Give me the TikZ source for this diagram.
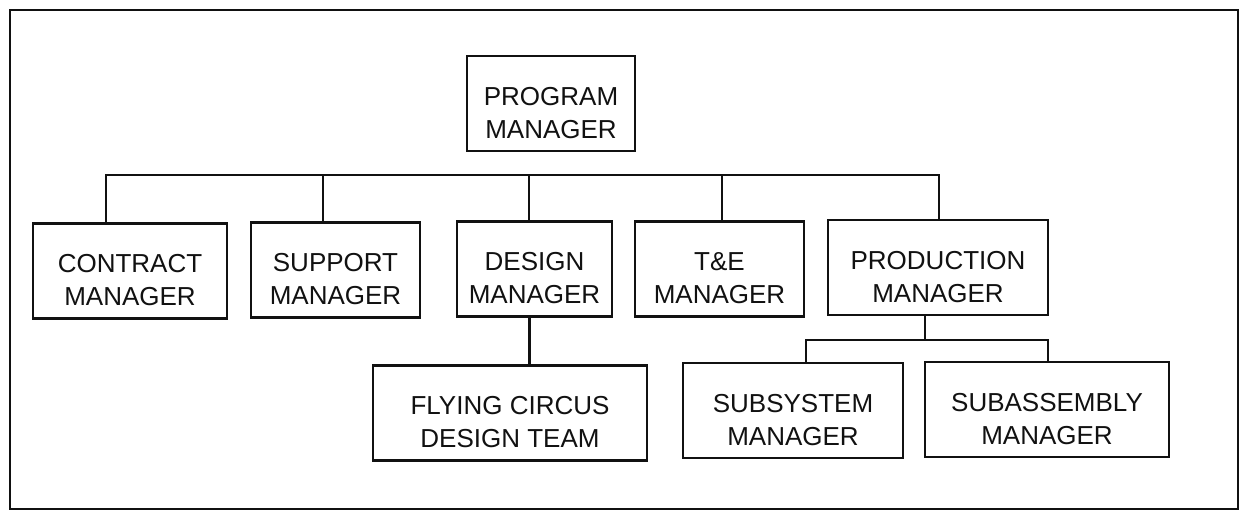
\documentclass[tikz,border=0pt]{standalone}
\usepackage{fontspec}
\setmainfont{Liberation Sans}
\usetikzlibrary{positioning,calc}
\definecolor{txt}{HTML}{111111}
\definecolor{lnB}{HTML}{111111}

\begin{document}
\begin{tikzpicture}[x=1pt,y=-1pt,text=txt,font=\fontsize{26}{33}\selectfont,
  box/.style={draw=lnB,line width=2.4pt,align=center,inner sep=2pt,minimum height=95pt,
    text height=70pt,text depth=1pt},
  ln/.style={draw=lnB,line width=2.2pt}]

\useasboundingbox[fill=white] (0,0) rectangle (1242,520);
\draw[ln] (10,10) rectangle (1238,509);

\node[box,minimum width=168pt] (prog) at (551,103.5) {PROGRAM\\MANAGER};

\node[box,minimum width=194pt] (con) at (130,271) {CONTRACT\\MANAGER};
\node[box,minimum width=169pt] (sup) at (335.5,270) {SUPPORT\\MANAGER};
\node[box,minimum width=155pt] (des) at (534.5,269) {DESIGN\\MANAGER};
\node[box,minimum width=169pt] (tae) at (719.5,269) {T\&E\\MANAGER};
\node[box,minimum width=220pt] (pro) at (938,267.5) {PRODUCTION\\MANAGER};

\node[box,minimum width=274pt] (fly) at (510,413) {FLYING CIRCUS\\DESIGN TEAM};
\node[box,minimum width=220pt] (sus) at (793,410.5) {SUBSYSTEM\\MANAGER};
\node[box,minimum width=244pt] (sua) at (1047,409.5) {SUBASSEMBLY\\MANAGER};

% top bus
\coordinate (bus) at (0,175);
\draw[ln] ([xshift=-24pt]con.north) |- ([xshift=1pt]pro.north |- bus) -- ([xshift=1pt]pro.north);
\foreach \n/\dx in {sup/-12.5,des/-5.5,tae/2.5}
  \draw[ln] ([xshift=\dx pt]\n.north) -- ([xshift=\dx pt]\n.north |- bus);

% design team
\draw[ln] ([xshift=-5pt]des.south) -- ([xshift=-5pt]des.south |- fly.north);

% production bus
\coordinate (sbus) at (0,340);
\draw[ln] ([xshift=-13pt]pro.south) -- ([xshift=-13pt]pro.south |- sbus);
\draw[ln] ([xshift=13pt]sus.north) |- ([xshift=1pt]sua.north |- sbus) -- ([xshift=1pt]sua.north);

\end{tikzpicture}
\end{document}
